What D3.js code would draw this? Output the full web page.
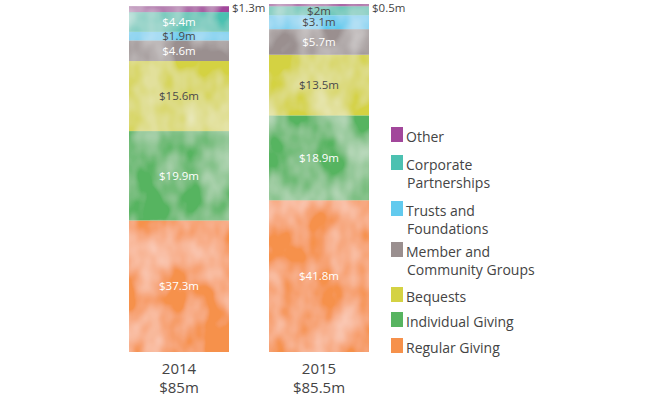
<!DOCTYPE html>
<html>
<head>
<meta charset="utf-8">
<script src="https://cdn.jsdelivr.net/npm/d3@7"></script>
<style>
  body { margin: 0; background: #fff; }
  svg { display: block; font-family: "Open Sans", "Noto Sans", sans-serif; }
</style>
</head>
<body>
<div id="chart"></div>
<script>
"use strict";

// stack order: bottom first
var categories = ["Regular Giving", "Individual Giving", "Bequests", "Member and Community Groups",
                  "Trusts and Foundations", "Corporate Partnerships", "Other"];
var years = ["2014", "2015"];
var totals = ["$85m", "$85.5m"];
var values2014 = [37.3, 19.9, 15.6, 4.6, 1.9, 4.4, 1.3];
var values2015 = [41.8, 18.9, 13.5, 5.7, 3.1, 2, 0.5];
var legendLines = [["Other"], ["Corporate", "Partnerships"], ["Trusts and", "Foundations"],
                   ["Member and", "Community Groups"], ["Bequests"], ["Individual Giving"], ["Regular Giving"]];

var colors = {
    "Regular Giving": "#f6914b",
    "Individual Giving": "#57b460",
    "Bequests": "#d4d243",
    "Member and Community Groups": "#9a8f8f",
    "Trusts and Foundations": "#62caee",
    "Corporate Partnerships": "#4cc1b1",
    "Other": "#a2479b"
};
// labels drawn in dark grey instead of white
var darkLabels = {"2014|Trusts and Foundations": 1, "2014|Bequests": 1,
                  "2015|Corporate Partnerships": 1, "2015|Trusts and Foundations": 1, "2015|Bequests": 1};

var width = 670, height = 398;

var svg = d3.select("#chart").append("svg")
    .attr("width", width)
    .attr("height", height);

// soft painterly texture
var defs = svg.append("defs");
var f = defs.append("filter").attr("id", "paint")
    .attr("x", 0).attr("y", 0).attr("width", 1).attr("height", 1);
f.append("feTurbulence").attr("type", "fractalNoise").attr("baseFrequency", "0.03 0.022")
    .attr("numOctaves", 3).attr("seed", 7).attr("result", "noise");
f.append("feColorMatrix").attr("in", "noise").attr("type", "matrix")
    .attr("values", "0 0 0 0 1  0 0 0 0 1  0 0 0 0 1  0 0 0 -0.9 0.6")
    .attr("result", "light");
f.append("feComposite").attr("in", "light").attr("in2", "SourceGraphic").attr("operator", "in").attr("result", "lightIn");
f.append("feMerge").call(function(m){
    m.append("feMergeNode").attr("in", "SourceGraphic");
    m.append("feMergeNode").attr("in", "lightIn");
});

var x = d3.scaleBand()
    .domain(years)
    .range([129, 369])
    .paddingInner(2 / 7)
    .paddingOuter(0);

// the original chart's bars start above zero
var y = d3.scaleLinear()
    .domain([8, 85.5])
    .range([352, 4])
    .clamp(true);

var rows = years.map(function(yr, j){
    var r = {year: yr};
    categories.forEach(function(c, i){ r[c] = (j === 0 ? values2014 : values2015)[i]; });
    return r;
});
var series = d3.stack().keys(categories)(rows);

var layers = svg.append("g").selectAll("g.layer")
    .data(series).enter()
    .append("g")
        .attr("class", "layer")
        .attr("fill", function(d){ return colors[d.key]; });

layers.selectAll("rect")
    .data(function(d){ return d; }).enter()
    .append("rect")
        .attr("x", function(d){ return x(d.data.year); })
        .attr("y", function(d){ return y(d[1]); })
        .attr("width", x.bandwidth())
        .attr("height", function(d){ return y(d[0]) - y(d[1]); })
        .attr("filter", "url(#paint)");

var labels = svg.append("g").selectAll("g")
    .data(series).enter()
    .append("g");

labels.selectAll("text")
    .data(function(s){
        return s.map(function(d){ return {key: s.key, year: d.data.year, v: d.data[s.key], y0: d[0], y1: d[1]}; });
    }).enter()
    .append("text")
        .attr("x", function(d){
            return d.v < 1.5 ? x(d.year) + x.bandwidth() + 3 : x(d.year) + x.bandwidth() / 2;
        })
        .attr("y", function(d){
            return d.v < 1.5 ? 12 : (y(d.y0) + y(d.y1)) / 2 + 4;
        })
        .attr("text-anchor", function(d){ return d.v < 1.5 ? "start" : "middle"; })
        .attr("font-size", 11.5)
        .attr("fill", function(d){
            if (d.v < 1.5) return "#444";
            return darkLabels[d.year + "|" + d.key] ? "#4a4a4a" : "#fff";
        })
        .text(function(d){ return "$" + d.v + "m"; });

// year and total under bars
var under = svg.append("g").selectAll("text")
    .data(years).enter()
    .append("text")
        .attr("x", function(d){ return x(d) + x.bandwidth() / 2; })
        .attr("y", 374)
        .attr("text-anchor", "middle")
        .attr("font-size", 15)
        .attr("fill", "#444");
under.append("tspan").text(function(d){ return d; });
under.append("tspan")
    .attr("x", function(d){ return x(d) + x.bandwidth() / 2; })
    .attr("dy", 19)
    .text(function(d, i){ return totals[i]; });

// legend
var legendY = [142, 170, 216, 257, 302, 327, 353];
var legendOrder = categories.slice().reverse();
var legend = svg.append("g").selectAll("g")
    .data(legendOrder).enter()
    .append("g")
        .attr("transform", function(d, i){ return "translate(391," + legendY[i] + ")"; });

legend.append("rect")
    .attr("x", 0)
    .attr("y", -15)
    .attr("width", 12)
    .attr("height", 15)
    .attr("fill", function(d){ return colors[d]; });

legend.append("text")
    .attr("font-size", 14)
    .attr("fill", "#444")
    .each(function(d, i){
        var t = d3.select(this);
        legendLines[i].forEach(function(line, j){
            t.append("tspan")
                .attr("x", j === 0 ? 15 : 16)
                .attr("y", j * 18)
                .text(line);
        });
    });
</script>
</body>
</html>
